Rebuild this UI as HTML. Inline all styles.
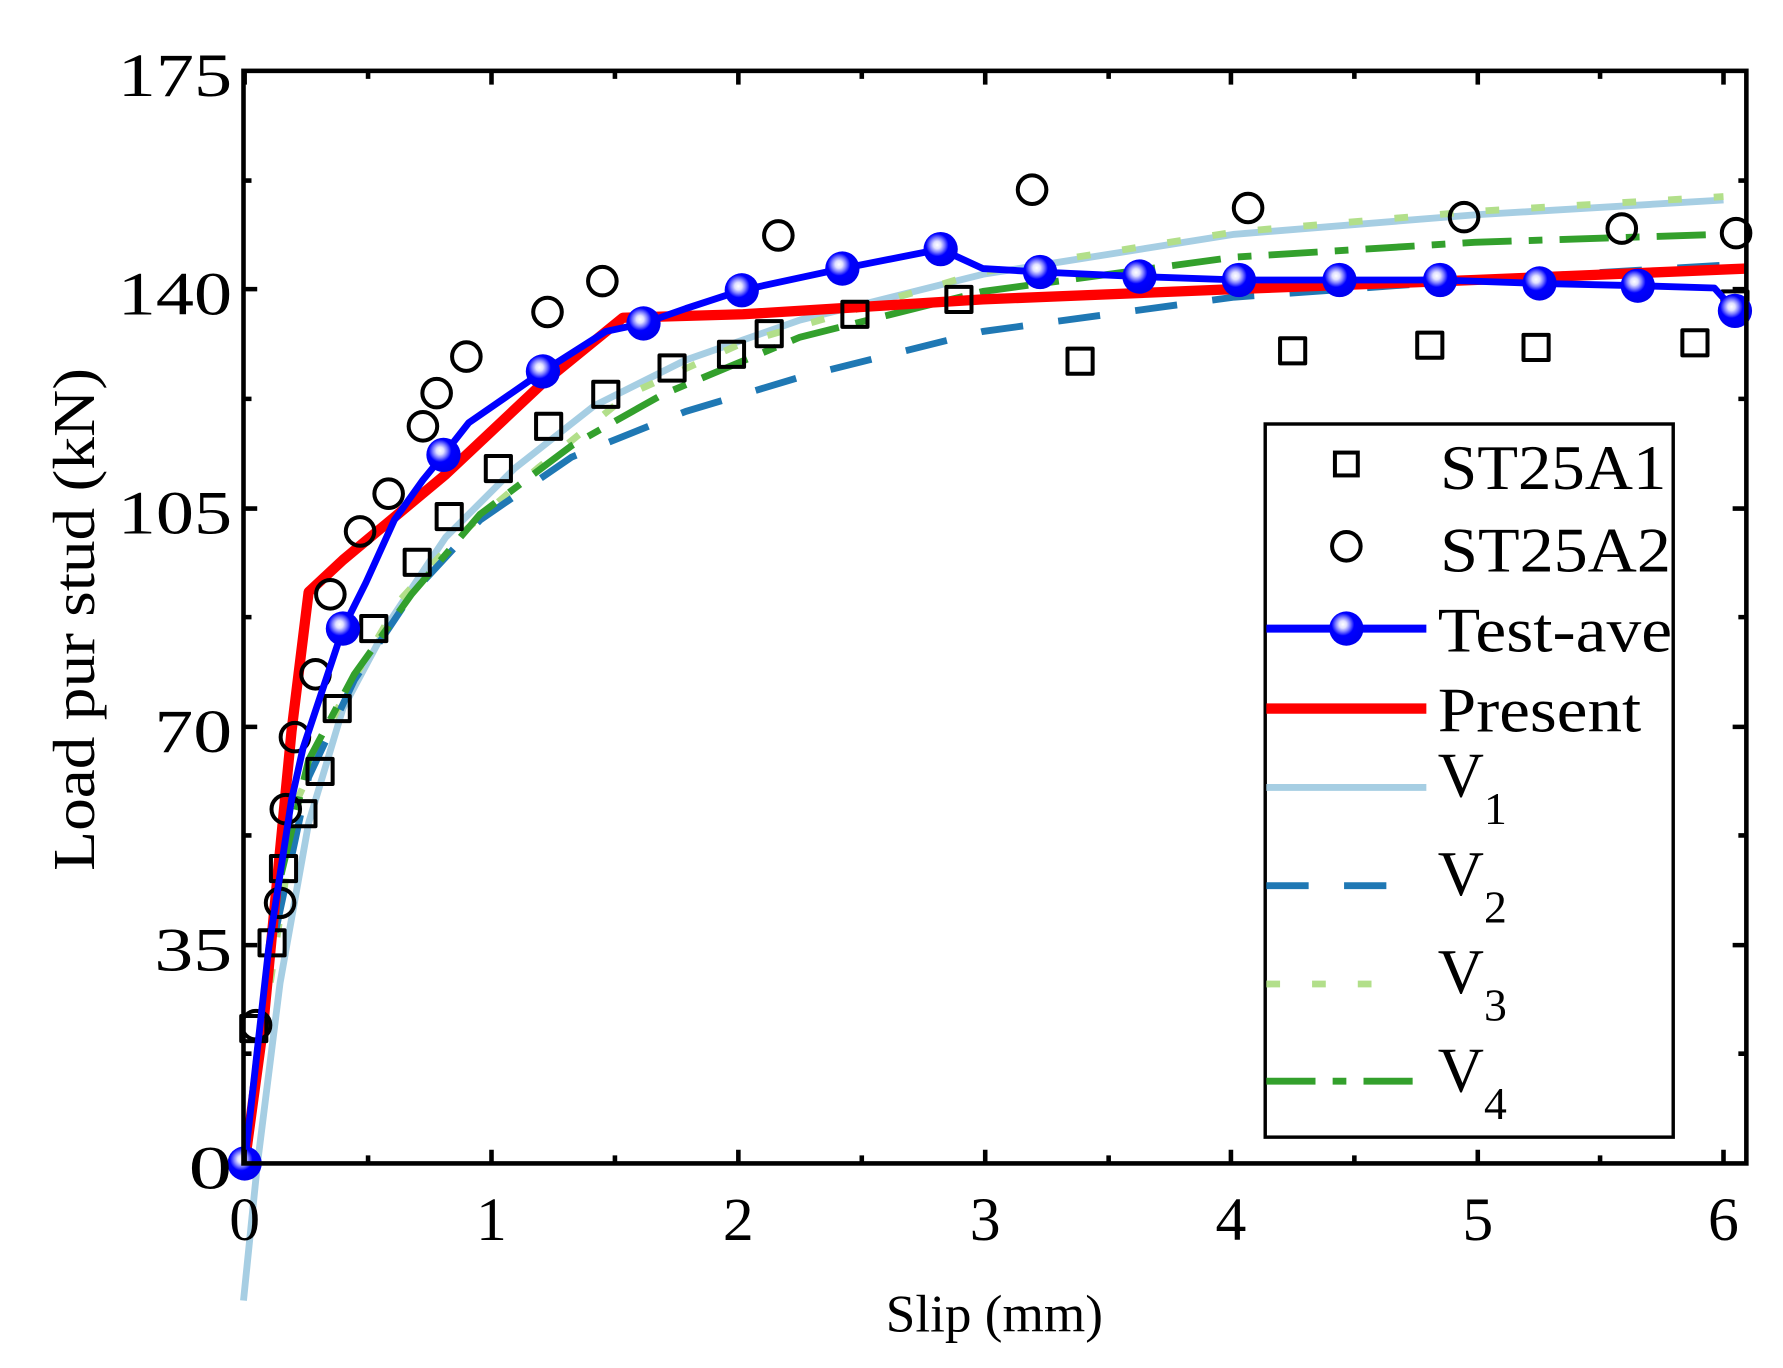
<!DOCTYPE html>
<html><head><meta charset="utf-8"><style>html,body{margin:0;padding:0;background:#fff}svg{display:block}svg text{font-family:"Liberation Serif","Times New Roman",serif}</style></head>
<body>
<svg width="1783" height="1368" viewBox="0 0 1560 1197" xmlns="http://www.w3.org/2000/svg" style="font-family:'Liberation Serif',serif">
<defs>
<radialGradient id="g" cx="0.4" cy="0.38" r="0.6">
<stop offset="0" stop-color="#ffffff"/><stop offset="0.18" stop-color="#e0e0ff"/><stop offset="0.35" stop-color="#8080ff"/><stop offset="0.55" stop-color="#0000ff"/><stop offset="1" stop-color="#0000f0"/>
</radialGradient>
</defs>
<rect width="1560" height="1197" fill="#fff"/>
<g fill="none" stroke-linejoin="round">
<polyline stroke="#a6cee3" stroke-width="6" points="213,1138 225,1020 245,860 270,720 300,620 340,545 390,470 450,410 520,355 600,315 700,280 860,240 1080,205 1290,188 1508,175"/>
<polyline stroke="#b2df8a" stroke-width="6" stroke-dasharray="12,28" points="214,1018 235,870 260,700 300,610 350,525 400,470 470,410 550,345 650,300 860,238 1080,203 1290,185 1508,172"/>
<polyline stroke="#1f78b4" stroke-width="6" stroke-dasharray="37,31" points="214,1018 240,820 270,680 310,595 360,520 420,455 500,400 600,360 700,330 860,290 1080,260 1290,245 1508,232"/>
<polyline stroke="#33a02c" stroke-width="6" stroke-dasharray="43,15,12,15" points="214,1018 240,790 270,665 310,590 360,520 420,450 500,390 580,345 700,295 860,255 1080,225 1290,212 1508,205"/>
<polyline stroke="#ff0000" stroke-width="9" points="214,1018 230,900 255,640 270,518 300,490 390,415 475,335 545,278 650,275 860,262 1080,253 1290,245 1528,235"/>
<g stroke="#000" stroke-width="3.5">
<rect x="211" y="889" width="22" height="22"/><rect x="227" y="814" width="22" height="22"/><rect x="237" y="749" width="22" height="22"/><rect x="254" y="701" width="22" height="22"/><rect x="269" y="664" width="22" height="22"/><rect x="284" y="609" width="22" height="22"/><rect x="316" y="539" width="22" height="22"/><rect x="354" y="481" width="22" height="22"/><rect x="382" y="441" width="22" height="22"/><rect x="425" y="399" width="22" height="22"/><rect x="469" y="362" width="22" height="22"/><rect x="519" y="334" width="22" height="22"/><rect x="577" y="311" width="22" height="22"/><rect x="629" y="299" width="22" height="22"/><rect x="662" y="281" width="22" height="22"/><rect x="737" y="264" width="22" height="22"/><rect x="828" y="251" width="22" height="22"/><rect x="934" y="305" width="22" height="22"/><rect x="1120" y="296" width="22" height="22"/><rect x="1240" y="291" width="22" height="22"/><rect x="1333" y="293" width="22" height="22"/><rect x="1472" y="289" width="22" height="22"/><rect x="1507" y="255" width="22" height="22"/>
</g>
<g stroke="#000" stroke-width="3.5">
<circle cx="224" cy="897" r="12.5"/><circle cx="245" cy="790" r="12.5"/><circle cx="250" cy="708" r="12.5"/><circle cx="258" cy="645" r="12.5"/><circle cx="276" cy="590" r="12.5"/><circle cx="289" cy="520" r="12.5"/><circle cx="315" cy="465" r="12.5"/><circle cx="340" cy="432" r="12.5"/><circle cx="370" cy="373" r="12.5"/><circle cx="382" cy="344" r="12.5"/><circle cx="408" cy="312" r="12.5"/><circle cx="479" cy="273" r="12.5"/><circle cx="527" cy="246" r="12.5"/><circle cx="681" cy="206" r="12.5"/><circle cx="903" cy="166" r="12.5"/><circle cx="1092" cy="182" r="12.5"/><circle cx="1281" cy="190" r="12.5"/><circle cx="1419" cy="200" r="12.5"/><circle cx="1519" cy="204" r="12.5"/>
</g>
<polyline stroke="#0000ff" stroke-width="6" points="214,1018 235,830 255,700 265,655 280,610 300,550 320,510 345,455 370,420 388,398 410,370 475,325 530,290 563,283 600,270 649,254 737,235 823,218 860,235 910,238 997,242 1084,245 1172,245 1260,245 1347,248 1433,250 1500,252 1518,272"/>
</g>
<g fill="url(#g)">
<circle cx="214" cy="1018" r="15"/><circle cx="300" cy="550" r="15"/><circle cx="388" cy="398" r="15"/><circle cx="475" cy="325" r="15"/><circle cx="563" cy="283" r="15"/><circle cx="649" cy="254" r="15"/><circle cx="737" cy="235" r="15"/><circle cx="823" cy="218" r="15"/><circle cx="910" cy="238" r="15"/><circle cx="997" cy="242" r="15"/><circle cx="1084" cy="245" r="15"/><circle cx="1172" cy="245" r="15"/><circle cx="1260" cy="245" r="15"/><circle cx="1347" cy="248" r="15"/><circle cx="1433" cy="250" r="15"/><circle cx="1518" cy="272" r="15"/>
</g>
<rect x="213" y="62" width="1315" height="956" fill="none" stroke="#000" stroke-width="4"/>
<g stroke="#000" stroke-width="4">
<path d="M214,1018v-12M430,1018v-12M646,1018v-12M862,1018v-12M1077,1018v-12M1293,1018v-12M1508,1018v-12M214,62v12M430,62v12M646,62v12M862,62v12M1077,62v12M1293,62v12M1508,62v12"/>
<path d="M322,1018v-7M538,1018v-7M754,1018v-7M970,1018v-7M1185,1018v-7M1400,1018v-7M322,62v7M538,62v7M754,62v7M970,62v7M1185,62v7M1400,62v7"/>
<path d="M213,827h12M213,636h12M213,445h12M213,253h12M1528,827h-12M1528,636h-12M1528,445h-12M1528,253h-12"/>
<path d="M213,922h7M213,731h7M213,540h7M213,349h7M213,158h7M1528,922h-7M1528,731h-7M1528,540h-7M1528,349h-7M1528,158h-7"/>
</g>
<g font-size="54" fill="#000">
<g text-anchor="end">
<text x="203" y="1040" textLength="38" lengthAdjust="spacingAndGlyphs">0</text>
<text x="203" y="849" textLength="68" lengthAdjust="spacingAndGlyphs">35</text>
<text x="203" y="658" textLength="68" lengthAdjust="spacingAndGlyphs">70</text>
<text x="203" y="467" textLength="100" lengthAdjust="spacingAndGlyphs">105</text>
<text x="203" y="275" textLength="100" lengthAdjust="spacingAndGlyphs">140</text>
<text x="203" y="84" textLength="100" lengthAdjust="spacingAndGlyphs">175</text>
</g>
<g text-anchor="middle">
<text x="214" y="1085">0</text><text x="430" y="1085">1</text><text x="646" y="1085">2</text><text x="862" y="1085">3</text><text x="1077" y="1085">4</text><text x="1293" y="1085">5</text><text x="1508" y="1085">6</text>
</g>
</g>
<text x="775" y="1165" font-size="46" textLength="190" lengthAdjust="spacingAndGlyphs">Slip (mm)</text>
<text transform="translate(82,762) rotate(-90)" font-size="52" textLength="440" lengthAdjust="spacingAndGlyphs">Load pur stud (kN)</text>
<rect x="1107" y="371" width="357" height="624" fill="#fff" stroke="#000" stroke-width="3"/>
<g fill="none" stroke-width="7">
<rect x="1168" y="396" width="20" height="20" stroke="#000" stroke-width="3.5"/>
<circle cx="1178" cy="478" r="12.5" stroke="#000" stroke-width="3.5"/>
<line x1="1108" y1="550" x2="1248" y2="550" stroke="#0000ff"/>
<line x1="1108" y1="620" x2="1248" y2="620" stroke="#ff0000" stroke-width="9"/>
<line x1="1108" y1="689" x2="1248" y2="689" stroke="#a6cee3" stroke-width="6"/>
<line x1="1108" y1="775" x2="1213" y2="775" stroke="#1f78b4" stroke-width="6" stroke-dasharray="37,31"/>
<line x1="1108" y1="861" x2="1213" y2="861" stroke="#b2df8a" stroke-width="6" stroke-dasharray="12,28"/>
<line x1="1108" y1="946" x2="1238" y2="946" stroke="#33a02c" stroke-width="6" stroke-dasharray="43,15,12,15"/>
</g>
<circle cx="1178" cy="550" r="15" fill="url(#g)"/>
<g font-size="56" fill="#000">
<text x="1260" y="428" textLength="198" lengthAdjust="spacingAndGlyphs">ST25A1</text>
<text x="1260" y="500" textLength="202" lengthAdjust="spacingAndGlyphs">ST25A2</text>
<text x="1258" y="570" textLength="205" lengthAdjust="spacingAndGlyphs">Test-ave</text>
<text x="1258" y="640" textLength="178" lengthAdjust="spacingAndGlyphs">Present</text>
<text x="1258" y="697">V<tspan font-size="40" dy="24">1</tspan></text>
<text x="1258" y="783">V<tspan font-size="40" dy="24">2</tspan></text>
<text x="1258" y="869">V<tspan font-size="40" dy="24">3</tspan></text>
<text x="1258" y="955">V<tspan font-size="40" dy="24">4</tspan></text>
</g>
</svg>
</body></html>
